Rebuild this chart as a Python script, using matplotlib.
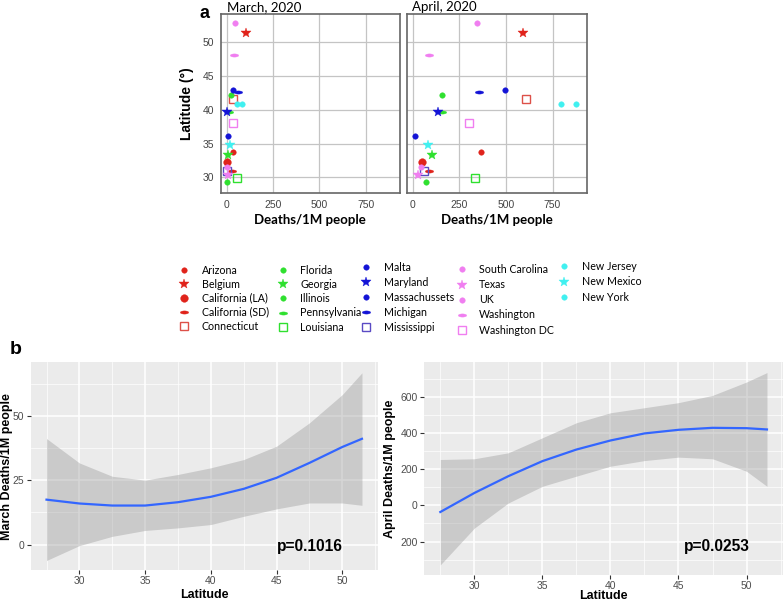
import numpy as np
import matplotlib

matplotlib.use("Agg")
from matplotlib import pyplot as plt

plt.rcParams["font.family"] = ["Liberation Sans", "DejaVu Sans"]
NARROW = ["Lato", "DejaVu Sans"]

# panel a: deaths per 1M people and latitude
places = [
    "Arizona", "Belgium", "California (LA)", "California (SD)", "Connecticut",
    "Florida", "Georgia", "Illinois", "Pennsylvania", "Louisiana",
    "Malta", "Maryland", "Massachussets", "Michigan", "Mississippi",
    "South Carolina", "Texas", "UK", "Washington", "Washington DC",
    "New Jersey", "New Mexico", "New York",
]
march_deaths = [34, 105, 0, 28, 37, 0, 7, 21, 14, 55, 7, 2, 34, 64, 0,
                4, 7, 45, 39, 32, 57, 18, 84]
april_deaths = [363, 589, 50, 86, 605, 70, 100, 158, 158, 334, 11, 136, 497,
                355, 57, 45, 25, 345, 88, 303, 797, 81, 878]
latitude = [33.7, 51.35, 32.35, 31.0, 41.6, 29.35, 33.3, 42.25, 39.75, 29.9,
            36.2, 39.7, 43.0, 42.7, 30.9, 31.5, 30.3, 52.85, 48.1, 38.0,
            40.9, 34.85, 40.9]

# panel b: smooth fits of deaths vs latitude
fit_lat = [27.5, 30, 32.5, 35, 37.5, 40, 42.5, 45, 47.5, 50, 51.5]
march_fit = [17.5, 16.0, 15.2, 15.2, 16.5, 18.6, 21.7, 26.0, 31.8, 38.0, 41.2]
march_upper = [41.3, 31.8, 26.6, 25.1, 27.3, 29.9, 33.1, 38.3, 47.4, 58.4, 66.9]
march_lower = [-6.2, -0.4, 3.2, 5.5, 6.5, 7.8, 11.0, 13.9, 16.2, 16.2, 15.3]
april_fit = [-37, 68, 161, 244, 308, 358, 397, 417, 428, 426, 419]
april_upper = [253, 257, 290, 373, 456, 511, 539, 567, 607, 681, 733]
april_lower = [-329, -126, 13, 105, 161, 216, 247, 266, 257, 188, 105]

RED, GREEN, BLUE = "#e0231b", "#2fe02f", "#1414d6"
PINK, CYAN, PURPLE = "#f07ef0", "#40f0f0", "#5a4ac4"

_t = np.linspace(0, 2 * np.pi, 24)
DASH = np.column_stack([np.cos(_t), 0.38 * np.sin(_t)])

STYLE = {
    "Arizona": (RED, "o", 4),
    "Belgium": (RED, "*", 7),
    "California (LA)": (RED, "o", 5.5),
    "California (SD)": (RED, DASH, 6),
    "Connecticut": ("#dd5048", "s", 6),
    "Florida": (GREEN, "o", 4),
    "Georgia": (GREEN, "*", 7),
    "Illinois": (GREEN, "o", 4),
    "Pennsylvania": (GREEN, DASH, 6),
    "Louisiana": (GREEN, "s", 6),
    "Malta": (BLUE, "o", 4),
    "Maryland": (BLUE, "*", 7),
    "Massachussets": (BLUE, "o", 4),
    "Michigan": (BLUE, DASH, 6),
    "Mississippi": (PURPLE, "s", 6),
    "South Carolina": (PINK, "o", 4),
    "Texas": (PINK, "*", 7),
    "UK": (PINK, "o", 4),
    "Washington": (PINK, DASH, 6),
    "Washington DC": (PINK, "s", 6),
    "New Jersey": (CYAN, "o", 4),
    "New Mexico": (CYAN, "*", 7),
    "New York": (CYAN, "o", 4),
}

W, H = 784, 604


def draw_point(ax, name, x, y):
    color, marker, size = STYLE[name]
    if isinstance(marker, str) and marker == "s":
        kw = dict(mfc="none", mec=color, mew=1.0)
    else:
        kw = dict(mfc=color, mec=color, mew=0.3)
    (h,) = ax.plot([x], [y], ls="none", marker=marker, ms=size, label=name, **kw)
    return h


def setup_scatter(ax, ylabels):
    ax.set_xlim(-32, 935)
    ax.set_ylim(27.7, 54.2)
    ax.set_xticks([0, 250, 500, 750])
    ax.set_yticks([30, 35, 40, 45, 50])
    ax.grid(color="#c4c4c4", lw=0.9)
    ax.set_axisbelow(True)
    for s in ax.spines.values():
        s.set_color("#666666")
        s.set_linewidth(1.2)
    ax.tick_params(length=0, labelsize=7.5, labelcolor="#444444", pad=5)
    if not ylabels:
        ax.set_yticklabels([])
    ax.set_xlabel("Deaths/1M people", family=NARROW, fontweight="bold",
                  fontsize=9.5, labelpad=3)


def setup_smooth(ax):
    ax.set_facecolor("#ebebeb")
    for s in ax.spines.values():
        s.set_visible(False)
    ax.set_xlim(26.3, 52.7)
    ax.set_xticks([30, 35, 40, 45, 50])
    ax.set_xticks([27.5, 32.5, 37.5, 42.5, 47.5, 52.5], minor=True)
    ax.grid(which="major", color="white", lw=1.1)
    ax.grid(which="minor", color="white", lw=0.5)
    ax.set_axisbelow(True)
    ax.tick_params(which="major", length=3, color="#333333",
                   labelcolor="#4d4d4d", labelsize=7.5, pad=1.5)
    ax.tick_params(which="minor", length=0)
    ax.set_xlabel("Latitude", fontweight="bold", fontsize=9)


fig = plt.figure(figsize=(7.84, 6.04), dpi=100)

ax_mar = fig.add_axes([0.2815, 0.6805, 0.2287, 0.2964])
ax_apr = fig.add_axes([0.5191, 0.6805, 0.2296, 0.2964])
setup_scatter(ax_mar, True)
setup_scatter(ax_apr, False)
ax_mar.set_ylabel("Latitude (°)", fontweight="bold", fontsize=10, labelpad=6)

fig.text(227 / W, 1 - 11 / H, "March, 2020", family=NARROW, fontsize=9.5,
         ha="left", va="baseline")
fig.text(412 / W, 1 - 11 / H, "April, 2020", family=NARROW, fontsize=9.5,
         ha="left", va="baseline")

handles = []
for name, xm, xa, lat in zip(places, march_deaths, april_deaths, latitude):
    handles.append(draw_point(ax_mar, name, xm, lat))
    draw_point(ax_apr, name, xa, lat)

fig.text(199 / W, 1 - 14 / H, "a", fontweight="bold", fontsize=13,
         ha="left", va="center")

# legend laid out as five separate columns, like the reference
fs_pt = 7.7
fs_px = fs_pt * 100 / 72
col_slices = [(0, 5), (5, 10), (10, 15), (15, 20), (20, 23)]
col_marker_x = [184, 282.6, 366, 461.6, 564]
col_first_y = [269.8, 269.8, 267.4, 269.5, 266.3]
col_step = [13.6, 13.9, 14.6, 14.7, 15.1]
row_h = 10.6
for (i0, i1), mx, fy, step in zip(col_slices, col_marker_x, col_first_y,
                                  col_step):
    fig.legend(handles[i0:i1], places[i0:i1], loc="upper left",
               bbox_to_anchor=((mx - fs_px / 2) / W, 1 - (fy - row_h / 2) / H),
               frameon=False, prop={"family": NARROW, "size": fs_pt},
               borderpad=0, borderaxespad=0, handlelength=1.0,
               handletextpad=1.14, labelspacing=(step - row_h) / fs_px)

# panel b
ax_b1 = fig.add_axes([0.0392, 0.0563, 0.4426, 0.3439])
ax_b2 = fig.add_axes([0.5408, 0.0480, 0.4583, 0.3522])
setup_smooth(ax_b1)
setup_smooth(ax_b2)

ax_b1.fill_between(fit_lat, march_lower, march_upper, color="#999999",
                   alpha=0.4, lw=0)
ax_b1.plot(fit_lat, march_fit, color="#3366ff", lw=1.6)
ax_b1.set_ylim(-9.9, 71.0)
ax_b1.set_yticks([0, 25, 50])
ax_b1.set_yticks([12.5, 37.5, 62.5], minor=True)
ax_b1.set_ylabel("March Deaths/1M people", fontweight="bold", fontsize=9)
ax_b1.yaxis.set_label_coords(-0.05, 0.5)
ax_b1.xaxis.set_label_coords(0.5, (570 - 589) / 207.7)
ax_b1.text(47.55, -0.8, "p=0.1016", fontweight="bold", fontsize=11.2,
           ha="center", va="center")

ax_b2.fill_between(fit_lat, april_lower, april_upper, color="#999999",
                   alpha=0.4, lw=0)
ax_b2.plot(fit_lat, april_fit, color="#3366ff", lw=1.6)
ax_b2.set_ylim(-385, 790)
ax_b2.set_yticks([-200, 0, 200, 400, 600])
ax_b2.set_yticklabels(["200", "0", "200", "400", "600"])
ax_b2.set_yticks([-300, -100, 100, 300, 500, 700], minor=True)
ax_b2.set_ylabel("April Deaths/1M people", fontweight="bold", fontsize=9)
ax_b2.yaxis.set_label_coords(-0.078, 0.5)
ax_b2.xaxis.set_label_coords(0.5, (575 - 590) / 212.7)
ax_b2.text(47.8, -227, "p=0.0253", fontweight="bold", fontsize=11.2,
           ha="center", va="center")

fig.text(16 / W, 1 - 350 / H, "b", fontweight="bold", fontsize=14,
         ha="center", va="center")

fig.savefig("out.png", dpi=100)
